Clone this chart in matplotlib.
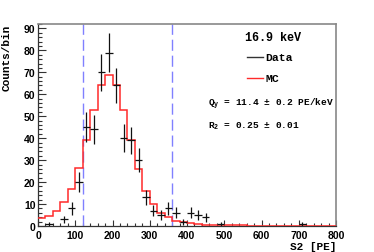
import numpy as np
import matplotlib
matplotlib.use("Agg")
import matplotlib.pyplot as plt
from matplotlib.ticker import MultipleLocator

plt.rcParams['mathtext.fontset'] = 'custom'
plt.rcParams['mathtext.rm'] = 'Liberation Mono:bold'
plt.rcParams['mathtext.it'] = 'Liberation Mono:bold'
plt.rcParams['mathtext.bf'] = 'Liberation Mono:bold'

# MC histogram (bin edges every 20 PE)
mc_edges = list(range(0, 820, 20))
mc_values = [3.7, 4.6, 6.8, 10.8, 16.7, 26.3, 39.1, 53.0, 64.4, 68.6,
             64.4, 53.0, 39.0, 26.0, 16.0, 9.8, 6.1, 4.0, 2.4, 1.7,
             1.4, 0.9, 0.6, 0.5, 0.4, 0.3, 0.3, 0.3, 0.1, 0.1,
             0.1, 0.1, 0.1, 0.1, 0.1, 0.1, 0.1, 0.1, 0.1, 0.1]

# Data points (bin centers, counts)
data_x = [30, 70, 90, 110, 130, 150, 170, 190, 210, 230, 250, 270, 290,
          310, 330, 350, 370, 390, 410, 430, 450, 490, 710]
data_y = [1, 3, 8, 20, 45, 44, 70, 79, 64, 40, 39, 30, 13,
          7, 5, 8, 6, 2, 6, 5, 4, 1, 1]
data_xerr = 10

cut_lines = [120, 360]

title_text = "16.9 keV"
legend_labels = ["Data", "MC"]
qy_text = r"Q$_y$ = 11.4 ± 0.2 PE/keV"
r2_text = r"R$_2$ = 0.25 ± 0.01"

W, H = 374, 253
fig = plt.figure(figsize=(W / 100, H / 100), dpi=100)
ax = fig.add_axes([38 / W, (H - 227) / H, (336 - 38) / W, (227 - 25) / H])

red = '#ff2a2a'
dash_col = '#8080ff'

ax.stairs(mc_values, mc_edges, color=red, lw=1.1, baseline=None, zorder=3)
ax.errorbar(data_x, data_y, yerr=np.sqrt(data_y), xerr=data_xerr, fmt='none',
            ecolor='#111111', elinewidth=0.9, capsize=0, zorder=4)
for c in cut_lines:
    ax.axvline(c, color=dash_col, lw=1.0, ls=(0, (8, 3.5)), zorder=2)

ax.set_xlim(0, 800)
ax.set_ylim(0, 92)
ax.xaxis.set_major_locator(MultipleLocator(100))
ax.xaxis.set_minor_locator(MultipleLocator(20))
ax.yaxis.set_major_locator(MultipleLocator(10))
ax.yaxis.set_minor_locator(MultipleLocator(2))
ax.tick_params(which='both', direction='in', color='#333333', width=0.8)
ax.tick_params(axis='y', which='major', length=6, pad=1.8)
ax.tick_params(axis='y', which='minor', length=3)
ax.tick_params(axis='x', which='major', length=4, pad=3.0)
ax.tick_params(axis='x', which='minor', length=2.2)
for lab in ax.get_xticklabels() + ax.get_yticklabels():
    lab.set_fontfamily('Liberation Sans')
    lab.set_fontweight('bold')
    lab.set_fontsize(7.5)

for s in ['left', 'bottom']:
    ax.spines[s].set_color('#333333')
    ax.spines[s].set_linewidth(0.9)
for s in ['top', 'right']:
    ax.spines[s].set_color('#888888')
    ax.spines[s].set_linewidth(1.2)

mono = dict(family='Liberation Mono', weight='bold')

def px(x, y):
    return x / W, 1 - y / H

fig.text(*px(7, 25), "Counts/bin", rotation=90, ha='center', va='top', fontsize=8, **mono)
fig.text(*px(336, 250.5), "S2 [PE]", ha='right', va='baseline', fontsize=8, **mono)

fig.text(*px(273, 38), title_text, ha='center', va='center', fontsize=8.5, **mono)
# legend entries
fig.lines.append(plt.Line2D([247 / W, 263 / W], [1 - 58 / H, 1 - 58 / H],
                            transform=fig.transFigure, color='#333333', lw=1.0))
fig.text(*px(265, 58), legend_labels[0], ha='left', va='center', fontsize=8.2, **mono)
fig.lines.append(plt.Line2D([247 / W, 263 / W], [1 - 79 / H, 1 - 79 / H],
                            transform=fig.transFigure, color=red, lw=1.0))
fig.text(*px(265, 79), legend_labels[1], ha='left', va='center', fontsize=8.2, **mono)

fig.text(*px(208, 104), qy_text, ha='left', va='center', fontsize=6.8, **mono)
fig.text(*px(208, 126), r2_text, ha='left', va='center', fontsize=6.8, **mono)

fig.savefig('out.png', dpi=100)
